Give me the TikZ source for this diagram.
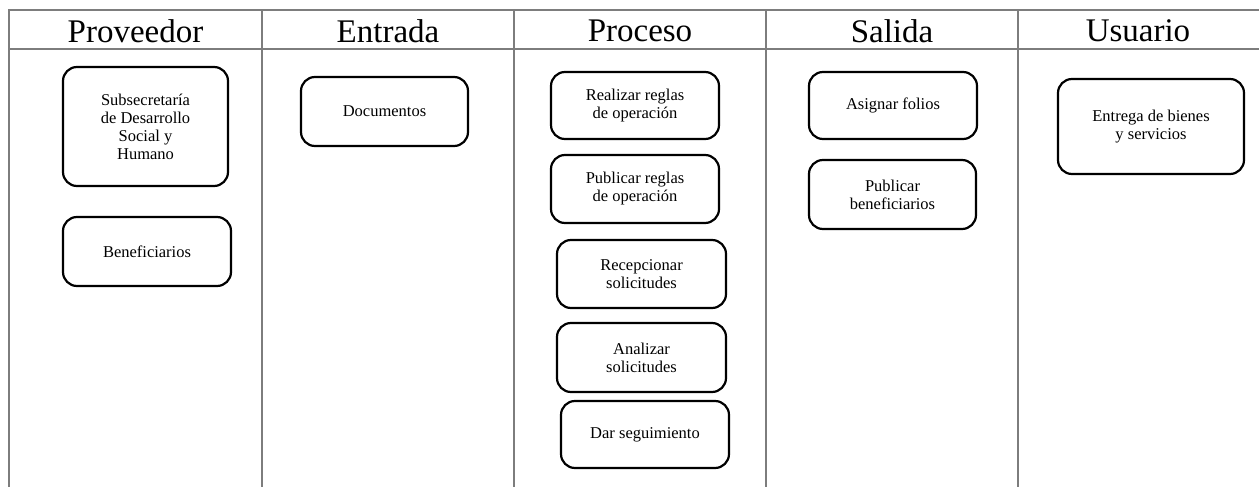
\documentclass[tikz,border=0pt]{standalone}
\usepackage{fontspec}
\setmainfont{Liberation Serif}
\begin{document}
\begin{tikzpicture}[x=1pt,y=-1pt,
  gridline/.style={draw={rgb,255:red,125;green,125;blue,125},line width=2.2pt},
  header/.style={font=\fontsize{33}{36}\selectfont,anchor=center},
  box/.style={draw=black,line width=2.2pt,rounded corners=14pt,align=center,
    font=\fontsize{16.5}{18}\selectfont,inner sep=2pt},
]
\useasboundingbox[fill=white] (0,0) rectangle (1259,487);
% table lines
\draw[gridline] (8,10) -- (1259,10);
\draw[gridline] (8,49) -- (1259,49);
\foreach \x in {9,262,514,766,1018}{\draw[gridline] (\x,10) -- (\x,487);}
% headers
\node[header] (h1) at (135.5,31) {Proveedor};
\node[header] (h2) at (388,31) {Entrada};
\node[header] (h3) at (640,31) {Proceso};
\node[header] (h4) at (892,31) {Salida};
\node[header] (h5) at (1138,31) {Usuario};
% boxes
\node[box,minimum width=165pt,minimum height=119pt] (sub) at (145.5,126.5) {Subsecretaría\\de Desarrollo\\Social y\\Humano};
\node[box,minimum width=168pt,minimum height=69pt] (ben) at (147,251.5) {Beneficiarios};
\node[box,minimum width=167pt,minimum height=69pt] (doc) at (384.5,111.5) {Documentos};
\node[box,minimum width=168pt,minimum height=67pt] (real) at (635,105.5) {Realizar reglas\\de operación};
\node[box,minimum width=168pt,minimum height=68pt] (pubr) at (635,189) {Publicar reglas\\de operación};
\node[box,minimum width=169pt,minimum height=68pt] (rec) at (641.5,274) {Recepcionar\\solicitudes};
\node[box,minimum width=169pt,minimum height=69pt] (ana) at (641.5,357.5) {Analizar\\solicitudes};
\node[box,minimum width=168pt,minimum height=67pt] (dar) at (645,434.5) {Dar seguimiento};
\node[box,minimum width=168pt,minimum height=67pt] (asig) at (893,105.5) {Asignar folios};
\node[box,minimum width=167pt,minimum height=69pt] (pubb) at (892.5,194.5) {Publicar\\beneficiarios};
\node[box,minimum width=186pt,minimum height=95pt] (ent) at (1151,126.5) {Entrega de bienes\\y servicios};
\end{tikzpicture}
\end{document}
